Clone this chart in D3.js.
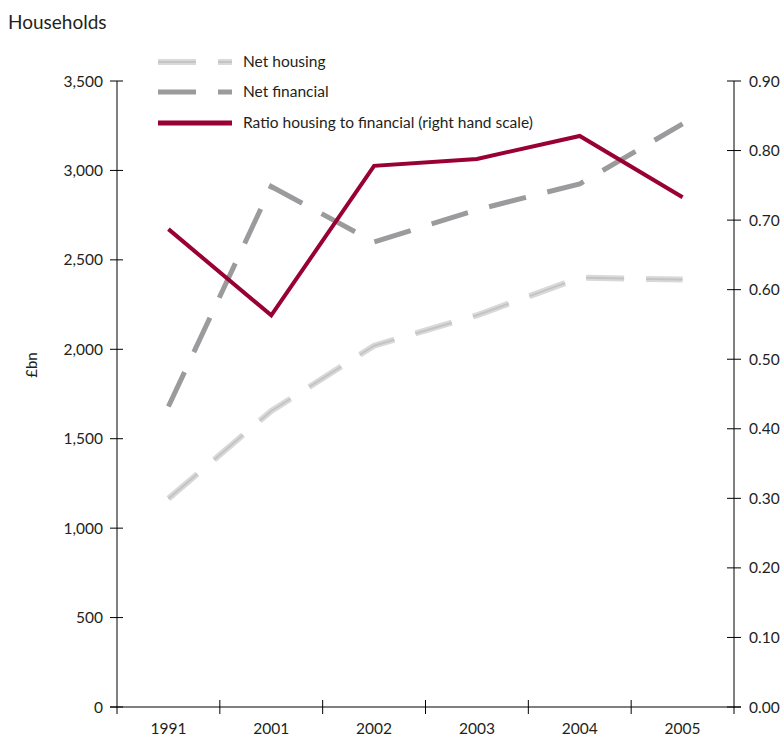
<!DOCTYPE html>
<html><head><meta charset="utf-8">
<script src="https://cdn.jsdelivr.net/npm/d3@7"></script>
<style>body{margin:0;background:#fff;} text{font-family:Lato, "Open Sans", sans-serif; fill:#231f20;}</style>
</head><body><svg id="c" width="783" height="736"></svg>
<script>
const categories = ["1991","2001","2002","2003","2004","2005"];
const netHousing = [1165, 1655, 2020, 2190, 2400, 2390];
const netFinancial = [1680, 2910, 2600, 2780, 2925, 3260];
const ratio = [0.687, 0.563, 0.778, 0.788, 0.821, 0.733];
const leftTicks = [0,500,1000,1500,2000,2500,3000,3500];
const rightTicks = [0,0.1,0.2,0.3,0.4,0.5,0.6,0.7,0.8,0.9];
const seriesNames = ["Net housing","Net financial","Ratio housing to financial (right hand scale)"];

const svg = d3.select("#c");
const L = 117, R = 734, T = 81, B = 707;
const x = d3.scaleBand().domain(categories).range([L, R]);
const yL = d3.scaleLinear().domain([0, 3500]).range([B, T]);
const yR = d3.scaleLinear().domain([0, 0.9]).range([B, T]);
const fmt = d3.format(",");

svg.append("text").attr("x", 8).attr("y", 29).attr("font-size", 19).text("Households");

// left axis
const gL = svg.append("g");
gL.append("line").attr("x1", L).attr("x2", L).attr("y1", T).attr("y2", B + 7).attr("stroke", "#000");
leftTicks.forEach(v => {
  gL.append("line").attr("x1", L - 7).attr("x2", L + 6).attr("y1", yL(v)).attr("y2", yL(v)).attr("stroke", "#000");
  gL.append("text").attr("x", 103).attr("y", yL(v) + 5.5).attr("text-anchor", "end").attr("font-size", 15.5).text(fmt(v));
});
// right axis
const gR = svg.append("g");
gR.append("line").attr("x1", R).attr("x2", R).attr("y1", T).attr("y2", B + 7).attr("stroke", "#000");
rightTicks.forEach(v => {
  gR.append("line").attr("x1", R - 7).attr("x2", R + 7).attr("y1", yR(v)).attr("y2", yR(v)).attr("stroke", "#000");
  gR.append("text").attr("x", 749).attr("y", yR(v) + 5.5).attr("font-size", 15.5).text(v.toFixed(2));
});
// bottom axis
const gB = svg.append("g");
gB.append("line").attr("x1", L - 7).attr("x2", R + 7).attr("y1", B).attr("y2", B).attr("stroke", "#000");
categories.forEach((c, i) => {
  if (i > 0) gB.append("line").attr("x1", x(c)).attr("x2", x(c)).attr("y1", B - 7).attr("y2", B + 7).attr("stroke", "#000");
  gB.append("text").attr("x", x(c) + x.bandwidth() / 2).attr("y", 734).attr("text-anchor", "middle").attr("font-size", 15.5).text(c);
});

svg.append("text").attr("transform", "translate(37,365) rotate(-90)").attr("text-anchor", "middle").attr("font-size", 15).text("£bn");

const cx = c => x(c) + x.bandwidth() / 2;
const lineL = d3.line().x((d, i) => cx(categories[i])).y(d => yL(d));
const lineR = d3.line().x((d, i) => cx(categories[i])).y(d => yR(d));

const dash = "38,22";
svg.append("path").attr("d", lineL(netHousing)).attr("fill", "none").attr("stroke", "#d9d9d9").attr("stroke-width", 6).attr("stroke-dasharray", dash);
svg.append("path").attr("d", lineL(netHousing)).attr("fill", "none").attr("stroke", "#c4c4c4").attr("stroke-width", 2).attr("stroke-dasharray", dash);
svg.append("path").attr("d", lineL(netFinancial)).attr("fill", "none").attr("stroke", "#9b9b9e").attr("stroke-width", 5).attr("stroke-dasharray", dash);
svg.append("path").attr("d", lineR(ratio)).attr("fill", "none").attr("stroke", "#990033").attr("stroke-width", 4);

// legend
const lg = svg.append("g");
const rows = [62, 92, 123];
[0,1,2].forEach(i => {
  const y = rows[i];
  if (i === 0) {
    lg.append("line").attr("x1", 158).attr("x2", 232).attr("y1", y).attr("y2", y).attr("stroke", "#d9d9d9").attr("stroke-width", 6).attr("stroke-dasharray", dash);
    lg.append("line").attr("x1", 158).attr("x2", 232).attr("y1", y).attr("y2", y).attr("stroke", "#c4c4c4").attr("stroke-width", 2).attr("stroke-dasharray", dash);
  } else if (i === 1) {
    lg.append("line").attr("x1", 158).attr("x2", 232).attr("y1", y).attr("y2", y).attr("stroke", "#9b9b9e").attr("stroke-width", 5).attr("stroke-dasharray", dash);
  } else {
    lg.append("line").attr("x1", 158).attr("x2", 232).attr("y1", y).attr("y2", y).attr("stroke", "#990033").attr("stroke-width", 5);
  }
  lg.append("text").attr("x", 243).attr("y", y + 5).attr("font-size", 15.5).text(seriesNames[i]);
});
</script></body></html>
